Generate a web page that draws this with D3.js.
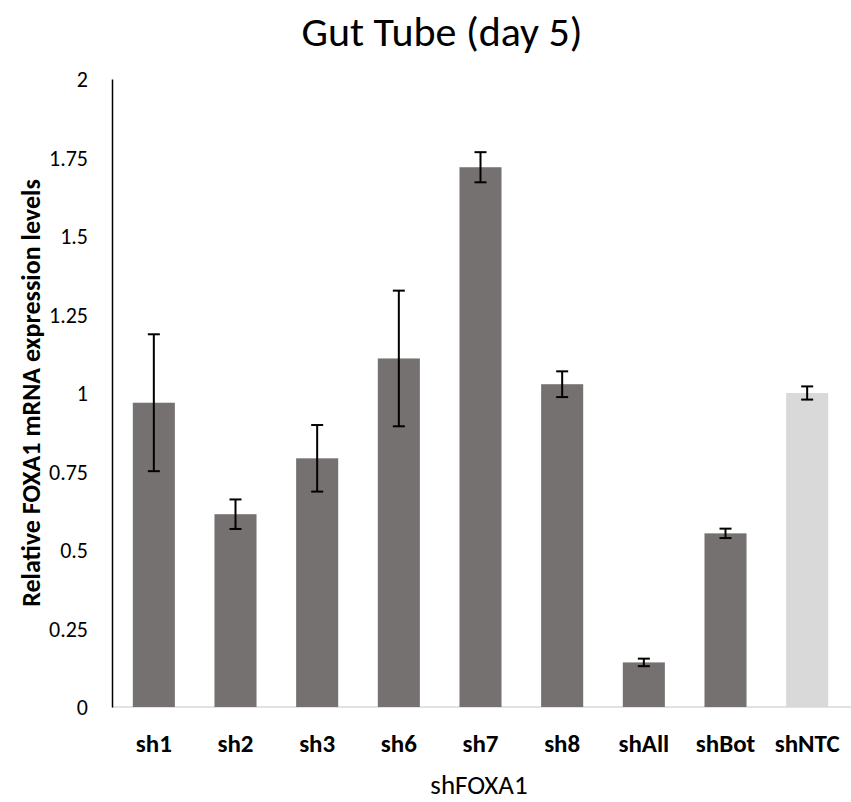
<!DOCTYPE html>
<html><head><meta charset="utf-8">
<script src="https://cdn.jsdelivr.net/npm/d3@7"></script>
<style>body{margin:0;background:#fff;} text{font-family:Calibri,Carlito,Lato,"Open Sans",sans-serif;fill:#000;}</style>
</head><body><svg id="c" width="851" height="802"></svg>
<script>
const categories = ["sh1","sh2","sh3","sh6","sh7","sh8","shAll","shBot","shNTC"];
const values = [0.969, 0.614, 0.792, 1.110, 1.719, 1.028, 0.142, 0.553, 1.000];
const errors = [0.218, 0.047, 0.106, 0.216, 0.048, 0.041, 0.012, 0.015, 0.021];
const barColors = ["#767171","#767171","#767171","#767171","#767171","#767171","#767171","#767171","#d9d9d9"];
const yTicks = [0, 0.25, 0.5, 0.75, 1, 1.25, 1.5, 1.75, 2];

const svg = d3.select("#c");
const x = d3.scaleBand().domain(categories).range([113, 848]).paddingInner(0.485).paddingOuter(0.2425);
const y = d3.scaleLinear().domain([0, 2]).range([707, 79]);

svg.append("text").attr("x", 442).attr("y", 46).attr("text-anchor", "middle")
  .style("font-size", "42px").text("Gut Tube (day 5)");

// baseline
svg.append("line").attr("x1", 112).attr("x2", 851).attr("y1", y(0)).attr("y2", y(0))
  .attr("stroke", "#d9d9d9").attr("stroke-width", 1.5);

// y axis
const yAxis = d3.axisLeft(y).tickValues(yTicks).tickSize(0).tickPadding(24)
  .tickFormat(d => d3.format("")(d));
const gy = svg.append("g").attr("transform", "translate(112,0)").call(yAxis);
gy.select(".domain").attr("stroke", "#000").attr("stroke-width", 1.5);
gy.selectAll("text").style("font-size", "22px").attr("dy", "0.35em");

// bars
svg.selectAll("rect.bar").data(categories).join("rect").attr("class", "bar")
  .attr("x", d => x(d)).attr("width", x.bandwidth())
  .attr("y", (d, i) => y(values[i])).attr("height", (d, i) => y(0) - y(values[i]))
  .attr("fill", (d, i) => barColors[i]);

// error bars
const eg = svg.append("g").attr("stroke", "#000").attr("stroke-width", 2);
categories.forEach((c, i) => {
  const cx = x(c) + x.bandwidth() / 2;
  const yt = y(values[i] + errors[i]), yb = y(values[i] - errors[i]);
  eg.append("line").attr("x1", cx).attr("x2", cx).attr("y1", yt).attr("y2", yb);
  eg.append("line").attr("x1", cx - 6).attr("x2", cx + 6).attr("y1", yt).attr("y2", yt);
  eg.append("line").attr("x1", cx - 6).attr("x2", cx + 6).attr("y1", yb).attr("y2", yb);
});

// x labels
const xAxis = d3.axisBottom(x).tickSize(0).tickPadding(27);
const gx = svg.append("g").attr("transform", `translate(0,${y(0)})`).call(xAxis);
gx.select(".domain").remove();
gx.selectAll("text").style("font-size", "25px").style("font-weight", "bold");

svg.append("text").attr("x", 479).attr("y", 794).attr("text-anchor", "middle")
  .style("font-size", "27px").text("shFOXA1");

svg.append("text").attr("transform", "translate(40,393) rotate(-90)").attr("text-anchor", "middle")
  .style("font-size", "26px").style("font-weight", "bold").text("Relative FOXA1 mRNA expression levels");
</script></body></html>
